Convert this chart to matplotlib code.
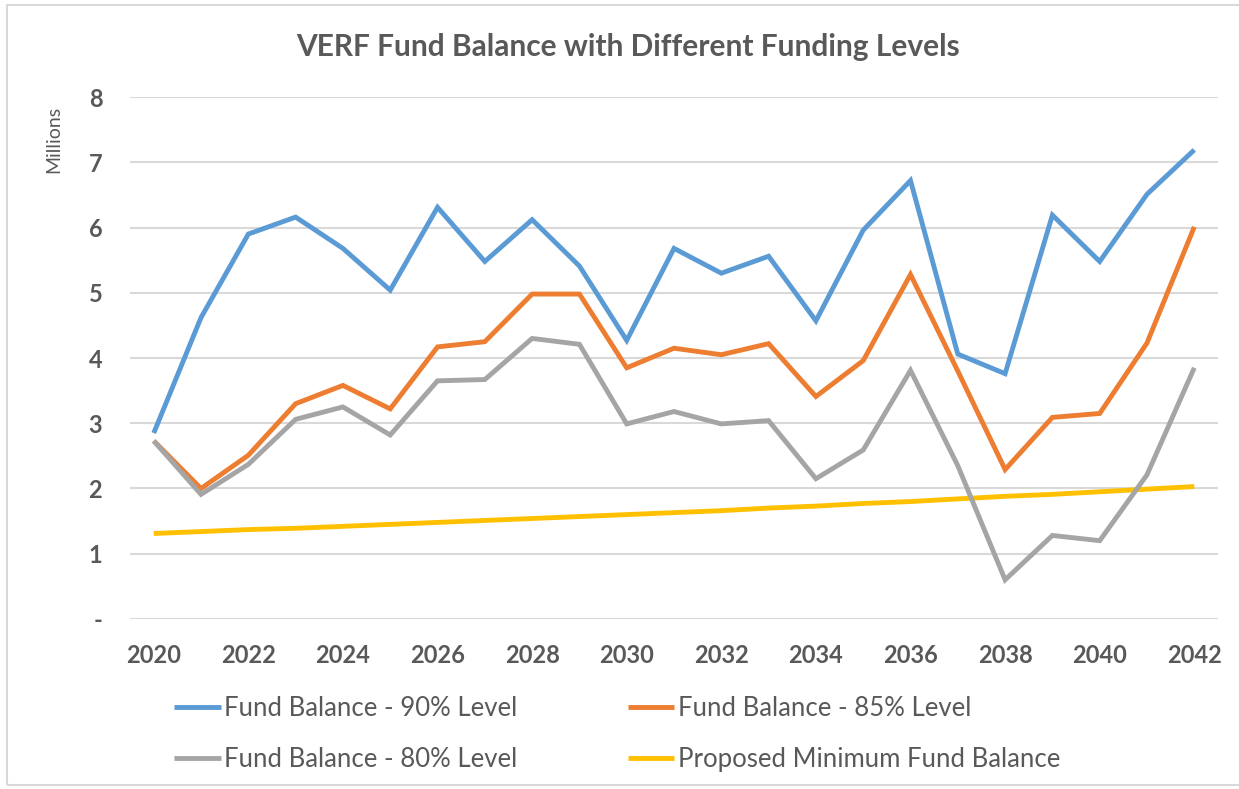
"""
VERF fund balance under different funding levels
"""
import matplotlib
matplotlib.use('Agg')  # no display
import matplotlib.pyplot as plt
from matplotlib.patches import Rectangle

# Data (millions)
years = list(range(2020, 2043))
balance_90 = [2.85, 4.62, 5.90, 6.16, 5.68, 5.04, 6.31, 5.48, 6.12, 5.41, 4.27, 5.68,
              5.30, 5.56, 4.57, 5.96, 6.72, 4.06, 3.76, 6.19, 5.48, 6.51, 7.19]
balance_85 = [2.73, 2.00, 2.51, 3.30, 3.58, 3.22, 4.17, 4.25, 4.98, 4.98, 3.85, 4.15,
              4.05, 4.22, 3.41, 3.96, 5.28, 3.80, 2.29, 3.09, 3.15, 4.23, 6.01]
balance_80 = [2.73, 1.91, 2.37, 3.06, 3.25, 2.82, 3.65, 3.67, 4.30, 4.21, 2.99, 3.18,
              2.99, 3.04, 2.15, 2.59, 3.81, 2.35, 0.60, 1.28, 1.20, 2.21, 3.85]
min_balance = [1.31, 1.34, 1.37, 1.39, 1.42, 1.45, 1.48, 1.51, 1.54, 1.57, 1.60, 1.63,
               1.66, 1.70, 1.73, 1.77, 1.80, 1.84, 1.88, 1.91, 1.95, 1.99, 2.03]

series_labels = ['Fund Balance - 90% Level', 'Fund Balance - 85% Level',
                 'Fund Balance - 80% Level', 'Proposed Minimum Fund Balance']
series_colors = ['#5B9BD5', '#ED7D31', '#A5A5A5', '#FFC000']
x_ticks = list(range(2020, 2043, 2))
y_ticks = list(range(0, 9))
y_tick_labels = ['-'] + [str(v) for v in range(1, 9)]

text_color = '#595959'
plt.rcParams['font.family'] = ['Lato', 'DejaVu Sans']

fig = plt.figure(figsize=(12.39, 7.89), dpi=100)
ax = fig.add_axes([0.105, 0.2155, 0.878, 0.6615])

# Outer chart border like the spreadsheet export
fig.patches.append(Rectangle((0.006, 0.005), 1.1, 0.989, transform=fig.transFigure,
                             fill=False, edgecolor='#D9D9D9', linewidth=1.5))

all_series = [balance_90, balance_85, balance_80, min_balance]
# draw yellow first so it sits underneath, but keep legend order
order = [3, 0, 1, 2]
lines = {}
for i in order:
    ln, = ax.plot(years, all_series[i], color=series_colors[i], linewidth=3.5,
                  solid_joinstyle='miter', solid_capstyle='butt', label=series_labels[i])
    lines[i] = ln

ax.set_xlim(2019.5, 2042.5)
ax.set_ylim(0, 8)
ax.set_xticks(x_ticks)
ax.set_yticks(y_ticks)
ax.set_yticklabels(y_tick_labels)
ax.tick_params(axis='both', length=0, labelsize=17, labelcolor=text_color)
ax.tick_params(axis='x', pad=18)
ax.tick_params(axis='y', pad=20)
for lbl in ax.get_xticklabels() + ax.get_yticklabels():
    lbl.set_fontweight('bold')

ax.grid(axis='y', color='#D9D9D9', linewidth=1.5)
ax.set_axisbelow(True)
for side in ['top', 'right', 'left', 'bottom']:
    ax.spines[side].set_visible(False)

fig.text(0.043, 0.823, 'Millions', rotation=90, ha='center', va='center',
         fontsize=14, color=text_color)
fig.text(0.507, 0.94, 'VERF Fund Balance with Different Funding Levels',
         ha='center', va='center', fontsize=21.5, fontweight='bold', color=text_color)

# legend fills column by column, so pass the series so rows read 90/85, 80/min
leg_order = [0, 2, 1, 3]
leg = fig.legend([lines[i] for i in leg_order], [series_labels[i] for i in leg_order],
                 ncol=2, loc='center left', bbox_to_anchor=(0.122, 0.07), frameon=False,
                 fontsize=18.5, handlelength=1.8, handletextpad=0.15,
                 columnspacing=4.3, labelspacing=1.0)
for t in leg.get_texts():
    t.set_color(text_color)

fig.savefig('out.png', dpi=100)
plt.close(fig)
